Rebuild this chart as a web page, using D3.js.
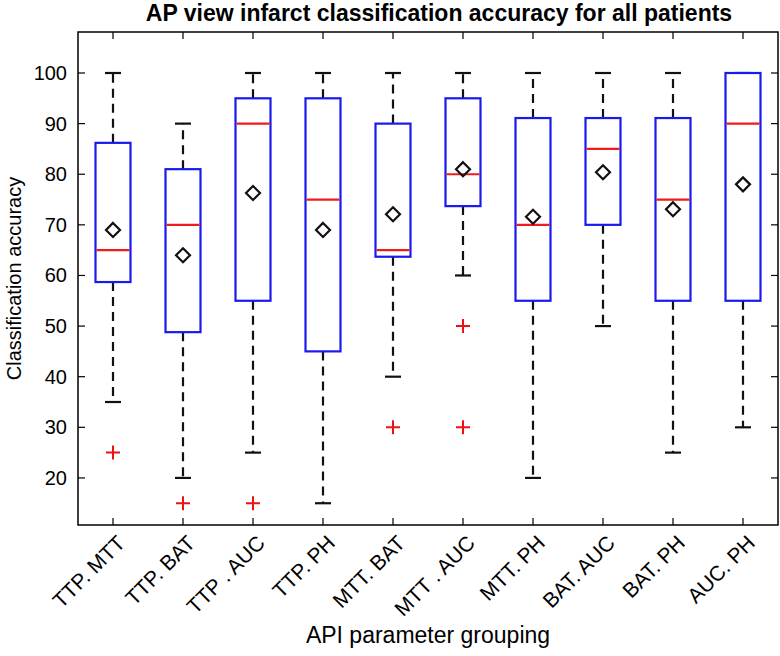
<!DOCTYPE html>
<html>
<head>
<meta charset="utf-8">
<script src="https://cdn.jsdelivr.net/npm/d3@7"></script>
<style>
body{margin:0;background:#fff;}
svg text{font-family:"Liberation Sans",Arial,sans-serif;fill:#000;}
</style>
</head>
<body>
<svg id="chart" width="780" height="656"></svg>
<script>
const categories=["TTP. MTT","TTP. BAT","TTP . AUC","TTP. PH","MTT. BAT","MTT . AUC","MTT. PH","BAT. AUC","BAT. PH","AUC. PH"];
const whiskerHigh=[100,90,100,100,100,100,100,100,100,100];
const q3=[86.2,81,95,95,90,95,91.1,91.1,91.1,100];
const median=[65,70,90,75,65,80,70,85,75,90];
const q1=[58.7,48.8,55,45,63.7,73.7,55,70,55,55];
const whiskerLow=[35,20,25,15,40,60,20,50,25,30];
const means=[69,64,76.3,69,72.1,81,71.6,80.4,73.1,78];
const outliers=[[25],[15],[15],[],[30],[50,30],[],[],[],[]];
const yTicks=[20,30,40,50,60,70,80,90,100];

const svg=d3.select("#chart");
const plotLeft=78,plotRight=778,plotTop=32,plotBottom=525;

const x=d3.scaleBand().domain(categories).range([plotLeft,plotRight]).padding(0);
const y=d3.scaleLinear().domain([10.7,108.1]).range([plotBottom,plotTop]);
const bw=x.bandwidth()/2;
const cx=c=>x(c)+x.bandwidth()/2;

// ---------- 枠と目盛 ----------

svg.append("rect")
    .attr("x",plotLeft).attr("y",plotTop)
    .attr("width",plotRight-plotLeft).attr("height",plotBottom-plotTop)
    .attr("fill","none").attr("stroke","#000").attr("stroke-width",1.5);

const TICK=7;
yTicks.forEach(t=>{
    svg.append("line").attr("x1",plotLeft).attr("x2",plotLeft+TICK)
        .attr("y1",y(t)).attr("y2",y(t)).attr("stroke","#000").attr("stroke-width",1.2);
    svg.append("line").attr("x1",plotRight).attr("x2",plotRight-TICK)
        .attr("y1",y(t)).attr("y2",y(t)).attr("stroke","#000").attr("stroke-width",1.2);
    svg.append("text").attr("x",plotLeft-11).attr("y",y(t))
        .attr("text-anchor","end").attr("dominant-baseline","central")
        .attr("font-size",20).text(t);
});

categories.forEach(c=>{
    svg.append("line").attr("x1",cx(c)).attr("x2",cx(c))
        .attr("y1",plotBottom).attr("y2",plotBottom-TICK).attr("stroke","#000").attr("stroke-width",1.2);
    svg.append("line").attr("x1",cx(c)).attr("x2",cx(c))
        .attr("y1",plotTop).attr("y2",plotTop+TICK).attr("stroke","#000").attr("stroke-width",1.2);
    svg.append("text")
        .attr("transform",`translate(${cx(c)+8},${plotBottom+14}) rotate(-45)`)
        .attr("text-anchor","end").attr("dominant-baseline","central")
        .attr("font-size",21).text(c);
});

// ---------- 箱ひげ ----------

categories.forEach((c,i)=>{
    const xc=cx(c);
    // ひげ
    [[q3[i],whiskerHigh[i]],[q1[i],whiskerLow[i]]].forEach(([a,b])=>{
        svg.append("line").attr("x1",xc).attr("x2",xc)
            .attr("y1",y(a)).attr("y2",y(b))
            .attr("stroke","#111").attr("stroke-width",2.2)
            .attr("stroke-dasharray","9,6");
        svg.append("line").attr("x1",xc-8).attr("x2",xc+8)
            .attr("y1",y(b)).attr("y2",y(b))
            .attr("stroke","#111").attr("stroke-width",2.2);
    });
    // 箱
    svg.append("rect")
        .attr("x",xc-bw/2).attr("y",y(q3[i]))
        .attr("width",bw).attr("height",Math.max(0,y(q1[i])-y(q3[i])))
        .attr("fill","#fff").attr("stroke","#1a1aee").attr("stroke-width",2.2);
    // 中央値
    svg.append("line").attr("x1",xc-bw/2+1).attr("x2",xc+bw/2-1)
        .attr("y1",y(median[i])).attr("y2",y(median[i]))
        .attr("stroke","#ee1c1c").attr("stroke-width",2.2);
    // 外れ値
    outliers[i].forEach(v=>{
        svg.append("path")
            .attr("d",`M${xc-7},${y(v)}H${xc+7}M${xc},${y(v)-7}V${y(v)+7}`)
            .attr("stroke","#ee1111").attr("stroke-width",2);
    });
    // 平均
    const m=y(means[i]);
    svg.append("path")
        .attr("d",`M${xc},${m-7}L${xc+7},${m}L${xc},${m+7}L${xc-7},${m}Z`)
        .attr("fill","none").attr("stroke","#111").attr("stroke-width",2.2);
});

// ---------- ラベル ----------

svg.append("text").attr("x",(plotLeft+plotRight)/2+11).attr("y",21)
    .attr("text-anchor","middle").attr("font-weight","bold").attr("font-size",23)
    .text("AP view infarct classification accuracy for all patients");

svg.append("text").attr("x",(plotLeft+plotRight)/2).attr("y",643)
    .attr("text-anchor","middle").attr("font-size",23)
    .text("API parameter grouping");

svg.append("text")
    .attr("transform",`translate(21,${(plotTop+plotBottom)/2}) rotate(-90)`)
    .attr("text-anchor","middle").attr("font-size",20)
    .text("Classification accuracy");
</script>
</body>
</html>
